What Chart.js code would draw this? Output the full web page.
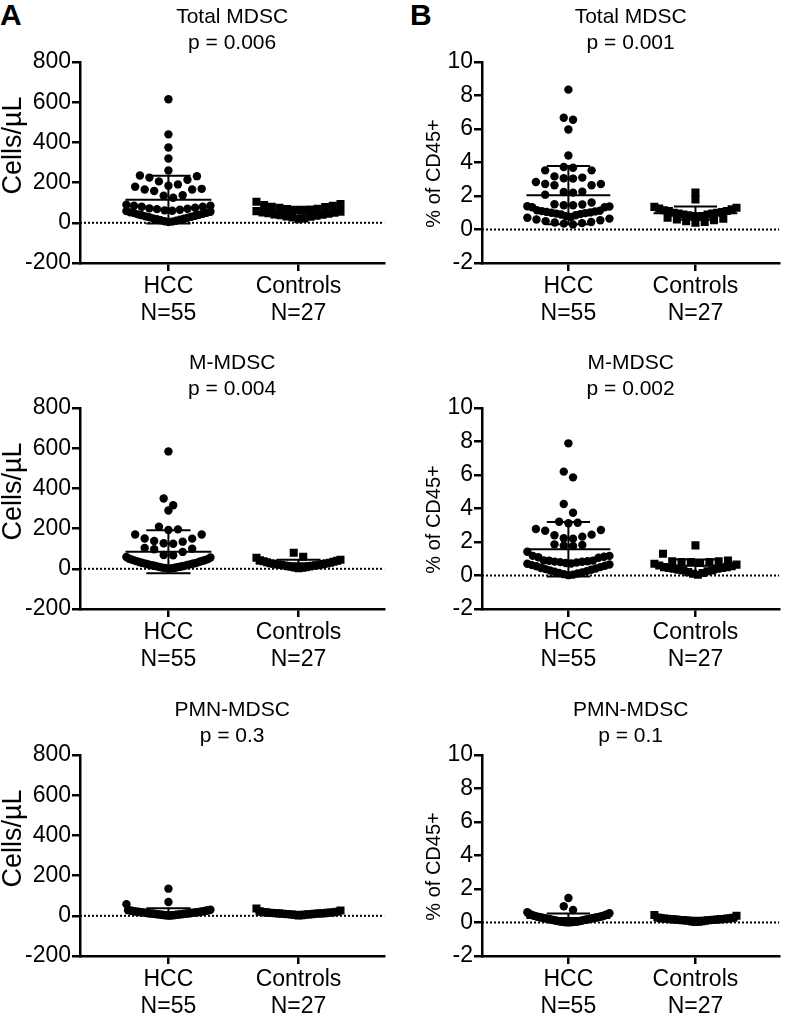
<!DOCTYPE html>
<html>
<head>
<meta charset="utf-8">
<script src="https://cdn.jsdelivr.net/npm/chart.js@4.4.1/dist/chart.umd.min.js"></script>
<style>
body { margin: 0; background: #fff; width: 785px; height: 1016px; position: relative; overflow: hidden; font-family: "Liberation Sans", Arial, sans-serif; }
canvas { position: absolute; }
.tag { position: absolute; font-weight: bold; font-size: 30px; line-height: 30px; }
</style>
</head>
<body>
<div class="tag" style="left:0px;top:0px">A</div>
<div class="tag" style="left:410px;top:0px">B</div>
<canvas id="c1" width="390" height="340" style="left:0px;top:0px"></canvas>
<canvas id="c2" width="393" height="340" style="left:392px;top:0px"></canvas>
<canvas id="c3" width="390" height="340" style="left:0px;top:346px"></canvas>
<canvas id="c4" width="393" height="340" style="left:392px;top:346px"></canvas>
<canvas id="c5" width="390" height="323" style="left:0px;top:693px"></canvas>
<canvas id="c6" width="393" height="323" style="left:392px;top:693px"></canvas>
<script>
// グループ名とN数
const groups = ['HCC', 'Controls'];
const groupN = ['N=55', 'N=27'];

// 目盛り
const cellTicks = [-200, 0, 200, 400, 600, 800];
const pctTicks = [-2, 0, 2, 4, 6, 8, 10];

// Total MDSC (Cells/µL)
const hccTotalCells = [615, 440, 375, 320, 260, 232, 225, 235, 214, 191, 179, 166, 158, 166, 169, 184, 206, 137, 125, 135, 85, 80, 80, 85, 90,
    75, 72, 70, 68, 65, 62, 60, 58, 55, 52, 50, 48, 45, 42, 40, 38, 35, 32, 30, 28, 25, 22, 20, 18, 15, 13, 10, 8, 6, 4];
const ctlTotalCells = [105, 94, 89, 85, 80, 78, 75, 70, 68, 65, 62, 60, 58, 55, 52, 50, 48, 45, 42, 40, 38, 35, 32, 30, 26, 22, 18];

// Total MDSC (% of CD45+)
const hccTotalPct = [8.35, 6.67, 6.55, 5.97, 4.42, 3.69, 3.53, 3.53, 3.73, 3.1, 3.04, 2.64, 2.72, 2.72, 2.84, 3.06, 2.64, 3.17, 2.26, 2.2, 2.08, 2.24,
    1.45, 1.39, 1.33, 1.51, 1.33, 1.37, 1.45, 1.49, 1.61,
    1.15, 1.12, 1.1, 1.08, 1.05, 1.02, 1.0, 0.98, 0.95, 0.92, 0.9, 0.85, 0.8, 0.75, 0.7, 0.65, 0.6, 0.55, 0.5, 0.45, 0.42, 0.38, 0.35, 0.3];
const ctlTotalPct = [2.2, 1.8, 1.35, 1.3, 1.25, 1.2, 1.15, 1.1, 1.1, 1.05, 1.0, 1.0, 0.95, 0.95, 0.9, 0.9, 0.85, 0.8, 0.8, 0.75, 0.7, 0.65, 0.6, 0.55, 0.5, 0.45, 0.4];

// M-MDSC (Cells/µL)
const hccMCells = [584, 350, 316, 290, 196, 193, 209, 150, 135, 125, 127, 138, 151, 171, 171, 104, 97, 100, 84, 69, 56, 59, 67,
    50, 48, 46, 44, 42, 40, 38, 36, 34, 32, 30, 28, 27, 25, 24, 22, 20, 19, 18, 16, 15, 13, 12, 10, 9, 8, 6, 5, 4, 3, 2, 1];
const ctlMCells = [80, 60, 55, 45, 42, 40, 38, 35, 33, 30, 28, 27, 25, 24, 22, 20, 19, 18, 16, 15, 13, 12, 10, 8, 6, 5, 3];

// M-MDSC (% of CD45+)
const hccMPct = [7.89, 6.2, 5.86, 4.27, 3.75, 3.21, 3.12, 3.15, 2.44, 2.32, 2.2, 2.72, 2.67, 2.78, 2.22, 2.4, 1.82, 1.76, 1.78, 1.86,
    1.42, 1.17, 1.09, 0.89, 0.83, 1.06, 1.12, 1.17,
    0.9, 0.88, 0.85, 0.82, 0.8, 0.78, 0.75, 0.72, 0.7, 0.66, 0.62, 0.58, 0.55, 0.5, 0.45, 0.42, 0.38, 0.34, 0.3, 0.26, 0.22, 0.18, 0.15, 0.12, 0.08, 0.05, 0.02];
const ctlMPct = [1.8, 1.3, 0.9, 0.85, 0.85, 0.8, 0.8, 0.8, 0.75, 0.7, 0.65, 0.6, 0.55, 0.5, 0.5, 0.45, 0.45, 0.4, 0.4, 0.35, 0.3, 0.3, 0.25, 0.2, 0.15, 0.1, 0.05];

// PMN-MDSC (Cells/µL)
const hccPmnCells = [135, 69, 58, 28, 30, 28, 27, 26, 25, 25, 24, 23, 22, 22, 21, 20, 20, 19, 19, 18, 18, 17, 17, 16, 16, 15, 15, 14, 14,
    13, 13, 12, 12, 11, 11, 10, 10, 9, 9, 8, 8, 7, 7, 6, 6, 5, 5, 4, 4, 3, 3, 2, 2, 1, 1];
const ctlPmnCells = [36, 26, 22, 20, 19, 18, 17, 16, 15, 15, 14, 13, 13, 12, 12, 11, 10, 10, 9, 8, 8, 7, 6, 5, 4, 3, 2];

// PMN-MDSC (% of CD45+)
const hccPmnPct = [1.46, 0.97, 0.75, 0.61, 0.55, 0.52, 0.5, 0.48, 0.46, 0.44, 0.42, 0.4, 0.39, 0.38, 0.36,
    0.35, 0.34, 0.33, 0.32, 0.31, 0.3, 0.29, 0.28, 0.27, 0.26, 0.25, 0.24, 0.23, 0.22, 0.21, 0.2, 0.19, 0.18, 0.17, 0.16,
    0.15, 0.14, 0.13, 0.12, 0.11, 0.1, 0.09, 0.08, 0.07, 0.06, 0.05, 0.05, 0.04, 0.04, 0.03, 0.03, 0.02, 0.02, 0.01, 0.01];
const ctlPmnPct = [0.45, 0.4, 0.3, 0.28, 0.26, 0.25, 0.24, 0.23, 0.22, 0.21, 0.2, 0.2, 0.19, 0.18, 0.17, 0.16, 0.15, 0.15, 0.14, 0.13, 0.12, 0.11, 0.1, 0.08, 0.06, 0.05, 0.03];

const FONT = '"Liberation Sans", Arial, sans-serif';
Chart.defaults.font.family = FONT;
Chart.defaults.color = '#000';

const X_MIN = 0.32, X_MAX = 2.66;

// Y軸タイトル(回転文字)を描くプラグイン
const yTitlePlugin = {
    id: 'yTitle',
    afterDraw(chart, args, opts) {
        const { ctx, chartArea } = chart;
        ctx.save();
        ctx.font = opts.size + 'px ' + FONT;
        ctx.fillStyle = '#000';
        ctx.textAlign = 'center';
        ctx.textBaseline = 'middle';
        ctx.translate(opts.x, (chartArea.top + chartArea.bottom) / 2 + opts.dy);
        ctx.rotate(-Math.PI / 2);
        ctx.fillText(opts.text, 0, 0);
        ctx.restore();
    }
};

// Prism風のドット配置: 値を行ごとにまとめ、中心から左右に振り分ける
function swarm(values, center, pxPerX, pxPerY) {
    const d = 9.5, maxW = 84, binH = 12;
    const bins = {};
    values.forEach(v => {
        const b = Math.floor(v * pxPerY / binH);
        (bins[b] = bins[b] || []).push(v);
    });
    const pts = [];
    Object.values(bins).forEach(list => {
        list.sort((a, b) => a - b);
        const n = list.length;
        const s = n > 1 ? Math.min(d, maxW / (n - 1)) : 0;
        list.forEach((v, i) => {
            let off;
            if (n % 2 === 1) {
                const k = Math.ceil(i / 2);
                off = (i % 2 === 1 ? 1 : -1) * k * s;
            } else {
                const k = Math.floor(i / 2);
                off = (i % 2 === 0 ? 1 : -1) * (k + 0.5) * s;
            }
            pts.push({ x: center + off / pxPerX, y: v });
        });
    });
    return pts;
}

// 平均とSD
function stats(v) {
    const m = v.reduce((a, b) => a + b, 0) / v.length;
    const sd = Math.sqrt(v.reduce((a, b) => a + (b - m) * (b - m), 0) / (v.length - 1));
    return { m, sd };
}

// 平均線とSDバー(線の途切れはnullで)
function barPts(c, st) {
    const w = 0.33, cap = 0.17;
    const hi = st.m + st.sd, lo = st.m - st.sd;
    return [
        { x: c - w, y: st.m }, { x: c + w, y: st.m }, { x: c, y: null },
        { x: c, y: lo }, { x: c, y: hi }, { x: c, y: null },
        { x: c - cap, y: hi }, { x: c + cap, y: hi }, { x: c, y: null },
        { x: c - cap, y: lo }, { x: c + cap, y: lo }
    ];
}

function makeChart(id, title, yTitle, ticks, hcc, ctl, isRight) {
    const canvas = document.getElementById(id);
    const yMin = ticks[0], yMax = ticks[ticks.length - 1];
    const pxPerY = 201 / (yMax - yMin);
    const pxPerX = 130;
    const axisW = isRight ? 90 : 80;
    const xAxisH = canvas.height - 263;

    new Chart(canvas, {
        type: 'scatter',
        plugins: [yTitlePlugin],
        data: {
            datasets: [
                {
                    data: barPts(1, stats(hcc)).concat([{ x: 1, y: null }], barPts(2, stats(ctl))),
                    showLine: true, spanGaps: false, borderColor: '#000', borderWidth: 2,
                    pointRadius: 0, order: 0
                },
                {
                    data: swarm(hcc, 1, pxPerX, pxPerY),
                    pointStyle: 'circle', pointRadius: 4.2, backgroundColor: '#000', borderColor: '#000', borderWidth: 0, order: 1
                },
                {
                    data: swarm(ctl, 2, pxPerX, pxPerY),
                    pointStyle: 'rect', pointRadius: 5.7, backgroundColor: '#000', borderColor: '#000', borderWidth: 0, order: 1
                },
                {
                    data: [{ x: X_MIN, y: 0 }, { x: X_MAX, y: 0 }],
                    showLine: true, borderColor: '#000', borderWidth: 2, borderDash: [2, 2],
                    pointRadius: 0, order: 2
                }
            ]
        },
        options: {
            responsive: false,
            animation: false,
            events: [],
            layout: { padding: { left: 0, right: isRight ? 0 : 3, top: 0, bottom: 0 } },
            plugins: {
                legend: { display: false },
                tooltip: { enabled: false },
                title: {
                    display: true, fullSize: false, text: title, color: '#000',
                    font: { size: 21, weight: 'normal', lineHeight: 1.2 },
                    padding: { top: 5, bottom: 6.6 }
                },
                yTitle: isRight
                    ? { text: yTitle, size: 20, x: 42, dy: 11 }
                    : { text: yTitle, size: 27, x: 14, dy: -17 }
            },
            scales: {
                x: {
                    type: 'linear', min: X_MIN, max: X_MAX,
                    afterBuildTicks: s => { s.ticks = [{ value: 1 }, { value: 2 }]; },
                    afterFit: s => { s.height = xAxisH; },
                    ticks: {
                        callback: (v, i) => [groups[i], groupN[i]],
                        font: { size: 23, lineHeight: 1.17 }, color: '#000',
                        padding: 2, maxRotation: 0, autoSkip: false
                    },
                    grid: { drawOnChartArea: false, drawTicks: true, tickLength: 8, color: '#000', lineWidth: 2.5 },
                    border: { display: true, color: '#000', width: 2.5 }
                },
                y: {
                    type: 'linear', min: yMin, max: yMax,
                    afterBuildTicks: s => { s.ticks = ticks.map(v => ({ value: v })); },
                    afterFit: s => { s.width = axisW; },
                    ticks: { font: { size: 23 }, color: '#000', padding: 1 },
                    grid: { drawOnChartArea: false, drawTicks: true, tickLength: 8, color: '#000', lineWidth: 2.5 },
                    border: { display: true, color: '#000', width: 2.5 }
                }
            }
        }
    });
}

makeChart('c1', ['Total MDSC', 'p = 0.006'], 'Cells/µL', cellTicks, hccTotalCells, ctlTotalCells, false);
makeChart('c2', ['Total MDSC', 'p = 0.001'], '% of CD45+', pctTicks, hccTotalPct, ctlTotalPct, true);
makeChart('c3', ['M-MDSC', 'p = 0.004'], 'Cells/µL', cellTicks, hccMCells, ctlMCells, false);
makeChart('c4', ['M-MDSC', 'p = 0.002'], '% of CD45+', pctTicks, hccMPct, ctlMPct, true);
makeChart('c5', ['PMN-MDSC', 'p = 0.3'], 'Cells/µL', cellTicks, hccPmnCells, ctlPmnCells, false);
makeChart('c6', ['PMN-MDSC', 'p = 0.1'], '% of CD45+', pctTicks, hccPmnPct, ctlPmnPct, true);
</script>
</body>
</html>
